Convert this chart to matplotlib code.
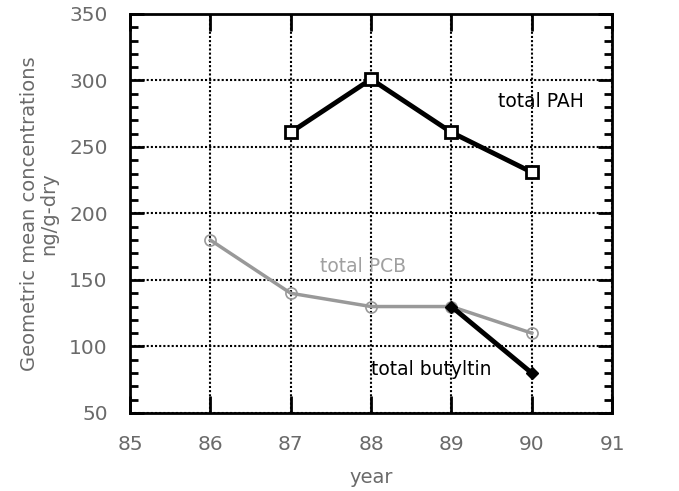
import numpy as np
import matplotlib.pyplot as plt
from matplotlib.ticker import MultipleLocator

# data
pah_years = [87, 88, 89, 90]
pah_vals = [261, 301, 261, 231]
pcb_years = [86, 87, 88, 89, 90]
pcb_vals = [180, 140, 130, 130, 110]
but_years = [89, 90]
but_vals = [130, 80]

fig = plt.figure(figsize=(6.79, 4.91), dpi=100)
ax = fig.add_axes([0.1915, 0.159, 0.710, 0.8125])

# gridlines first so lines sit on top
ax.grid(True, which='major', linestyle=(0, (1, 1)), color='k', linewidth=1.5)

ax.plot(pcb_years, pcb_vals, color='#999999', linewidth=2.5, marker='o',
        markersize=8, markerfacecolor='none', markeredgecolor='#999999',
        markeredgewidth=1.2, zorder=3)
ax.plot(pah_years, pah_vals, color='k', linewidth=3.5, marker='s',
        markersize=9, markerfacecolor='white', markeredgecolor='k',
        markeredgewidth=2, zorder=4)
ax.plot(but_years, but_vals, color='k', linewidth=3.5, marker='D',
        markersize=6, markerfacecolor='k', markeredgecolor='k', zorder=4)

ax.text(89.58, 284, 'total PAH', fontsize=13.5, color='k', va='center')
ax.text(87.36, 160, 'total PCB', fontsize=13.5, color='#a0a0a0', va='center')
ax.text(88.0, 82.5, 'total butyltin', fontsize=13.5, color='k', va='center')

ax.set_xlim(85, 91)
ax.set_ylim(50, 350)
ax.xaxis.set_major_locator(MultipleLocator(1))
ax.yaxis.set_major_locator(MultipleLocator(50))
ax.yaxis.set_minor_locator(MultipleLocator(10))

lab_col = '#6a6a6a'
ax.tick_params(axis='x', which='major', direction='in', length=12, width=2,
               top=True, bottom=True, pad=16, labelsize=14.5, labelcolor=lab_col)
ax.tick_params(axis='y', which='major', direction='in', length=10, width=2,
               left=True, right=True, pad=16, labelsize=14.5, labelcolor=lab_col)
ax.tick_params(axis='y', which='minor', direction='in', length=6, width=2,
               left=True, right=True)

for s in ax.spines.values():
    s.set_linewidth(2)

ax.set_xlabel('year', fontsize=14, color=lab_col, labelpad=10)
ax.set_ylabel('Geometric mean concentrations\nng/g-dry', fontsize=14,
              color=lab_col, labelpad=8, linespacing=1.0)

fig.savefig('out.png', dpi=100, facecolor='white')
